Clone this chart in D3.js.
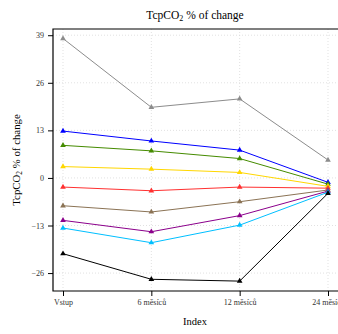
<!DOCTYPE html>
<html><head><meta charset="utf-8">
<script src="https://cdn.jsdelivr.net/npm/d3@7"></script>
<style>body{margin:0;background:#fff}svg{display:block}svg text{font-family:'Liberation Serif','Times New Roman',Times,serif !important}</style>
</head><body><div id="c"></div>
<script>
const categories = ["Vstup","6 měsíců","12 měsíců","24 měsíců"];
const yTicks = [-26,-13,0,13,26,39];
const seriesNames = ["gray","blue","green","gold","red","brown","purple","cyan","black"];
const seriesColors = ["#8c8c8c","#0000ff","#458b00","#ffd700","#ff3030","#8b7355","#8b008b","#00bfff","#000000"];
const gray   = [38.1, 19.3, 21.6, 4.9];
const blue   = [12.8, 10.1, 7.6, -1.2];
const green  = [8.9, 7.4, 5.3, -1.7];
const gold   = [3.1, 2.4, 1.5, -2.3];
const red    = [-2.5, -3.5, -2.5, -2.8];
const brown  = [-7.6, -9.3, -6.5, -3.3];
const purple = [-11.6, -14.7, -10.3, -3.6];
const cyan   = [-13.7, -17.7, -12.9, -3.9];
const black  = [-20.7, -27.7, -28.2, -4.2];
const seriesValues = [gray, blue, green, gold, red, brown, purple, cyan, black];

const W = 338, H = 334;
const svg = d3.select("#c").append("svg").attr("width", W).attr("height", H);
const pL = 53, pT = 29, pB = 291, pR = 352;
const x = d3.scalePoint().domain(categories).range([63, 328]);
const y = d3.scaleLinear().domain([-30.9, 40.7]).range([pB, pT]);

// grid
const g = svg.append("g");
g.selectAll(".hg").data(yTicks).join("line")
  .attr("x1", pL).attr("x2", pR).attr("y1", d => y(d)).attr("y2", d => y(d))
  .attr("stroke", "#d9d9d9").attr("stroke-width", 0.8).attr("stroke-dasharray", "1,2");
g.selectAll(".vg").data(categories).join("line")
  .attr("y1", pT).attr("y2", pB).attr("x1", d => x(d)).attr("x2", d => x(d))
  .attr("stroke", "#d9d9d9").attr("stroke-width", 0.8).attr("stroke-dasharray", "1,2");

// series
const line = d3.line().x((d, i) => x(categories[i])).y(d => y(d));
const tri = d3.symbol().type(d3.symbolTriangle).size(14);
seriesValues.forEach((vals, k) => {
  svg.append("path").datum(vals).attr("d", line).attr("fill", "none")
    .attr("stroke", seriesColors[k]).attr("stroke-width", 1);
  svg.selectAll(null).data(vals).join("path")
    .attr("d", tri)
    .attr("transform", (d, i) => `translate(${x(categories[i])},${y(d)})`)
    .attr("fill", seriesColors[k]);
});

// panel border (top, left, bottom)
svg.append("path").attr("d", `M${pR},${pT}H${pL}V${pB}H${pR}`)
  .attr("fill", "none").attr("stroke", "#000").attr("stroke-width", 1.2);

// axes
const ya = svg.append("g").attr("transform", `translate(${pL},0)`)
  .call(d3.axisLeft(y).tickValues(yTicks).tickSize(5).tickPadding(4));
const xa = svg.append("g").attr("transform", `translate(0,${pB})`)
  .call(d3.axisBottom(x).tickSize(5).tickPadding(3));
[ya, xa].forEach(a => {
  a.attr("font-family", null);
  a.select(".domain").remove();
  a.selectAll("line").attr("stroke", "#000").attr("stroke-width", 1);
  a.selectAll("text").attr("font-size", 8).attr("fill", "#333");
});

// titles
const title = svg.append("text").attr("x", 195).attr("y", 19).attr("text-anchor", "middle").attr("font-size", 11.5);
title.append("tspan").text("TcpCO");
title.append("tspan").attr("font-size", 8).attr("dy", 2).text("2");
title.append("tspan").attr("dy", -2).text(" % of change");

const yl = svg.append("text").attr("transform", `translate(20,${(pT+pB)/2}) rotate(-90)`)
  .attr("text-anchor", "middle").attr("font-size", 10.8);
yl.append("tspan").text("TcpCO");
yl.append("tspan").attr("font-size", 7.5).attr("dy", 2).text("2");
yl.append("tspan").attr("dy", -2).text(" % of change");

svg.append("text").attr("x", 195).attr("y", 325).attr("text-anchor", "middle").attr("font-size", 10.5).text("Index");
</script></body></html>
